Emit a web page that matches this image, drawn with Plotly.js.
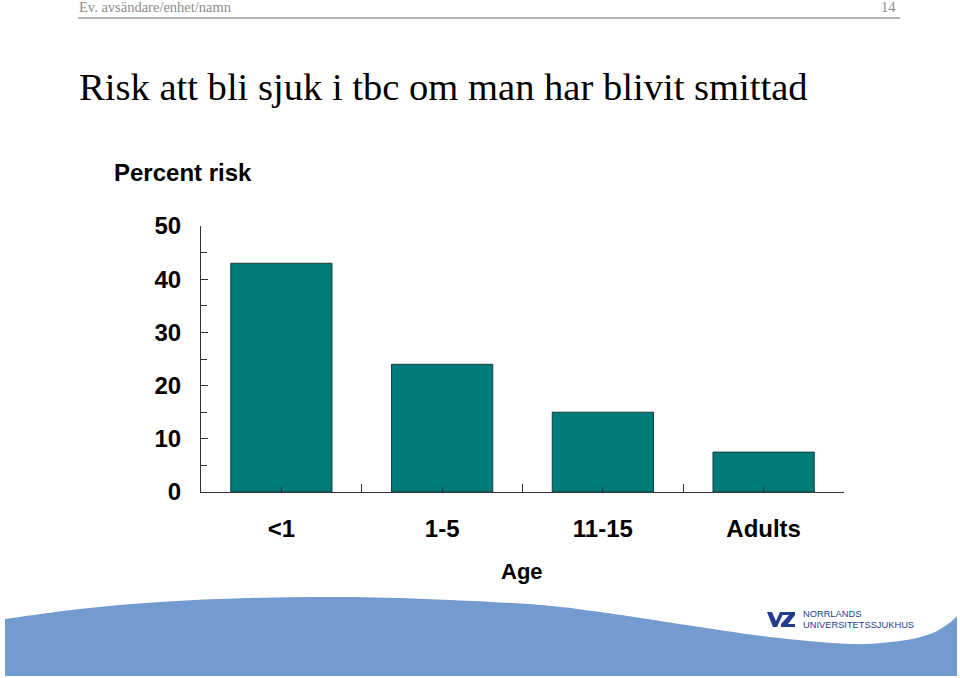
<!DOCTYPE html>
<html>
<head>
<meta charset="utf-8">
<script src="https://cdn.plot.ly/plotly-3.0.1.min.js"></script>
<style>html,body{margin:0;padding:0;background:#fff;}#chart{width:960px;height:678px;}</style>
</head>
<body>
<div id="chart"></div>
<script>
// ---- data ----
const categories = ["<1", "1-5", "11-15", "Adults"];
const riskPercent = [43, 24, 15, 7.5];
const yTickValues = [0, 10, 20, 30, 40, 50];
const yTickLabels = ["0", "10", "20", "30", "40", "50"];

// ---- geometry helpers (decoration only) ----
const W = 960, H = 678;
const L = 201, R = 844, T = 226, B = 492;
const px = X => (X - L) / (R - L);
const py = Y => (B - Y) / (B - T);

function smoothPath(pts) {
  let d = "M" + px(pts[0][0]) + "," + py(pts[0][1]);
  for (let i = 0; i < pts.length - 1; i++) {
    const p0 = pts[Math.max(0, i - 1)], p1 = pts[i], p2 = pts[i + 1], p3 = pts[Math.min(pts.length - 1, i + 2)];
    const c1 = [p1[0] + (p2[0] - p0[0]) / 6, p1[1] + (p2[1] - p0[1]) / 6];
    const c2 = [p2[0] - (p3[0] - p1[0]) / 6, p2[1] - (p3[1] - p1[1]) / 6];
    d += " C" + px(c1[0]) + "," + py(c1[1]) + " " + px(c2[0]) + "," + py(c2[1]) + " " + px(p2[0]) + "," + py(p2[1]);
  }
  return d;
}
function polyPath(pts) {
  return "M" + pts.map(p => px(p[0]) + "," + py(p[1])).join(" L") + " Z";
}

const wavePts = [[5,619],[80,609],[160,602],[250,598],[350,597],[450,600],[540,605],[600,612],[700,627],[770,637],[850,644],[900,641],[930,634],[948,624],[957,616]];
let wave = smoothPath(wavePts);
wave += " L" + px(957) + "," + py(676) + " L" + px(5) + "," + py(676) + " Z";

const logoBlue = "#233d8e";
const iconV = polyPath([[767,612],[772,612],[776,621],[780,612],[784,612],[777,627],[773,627]]);
const iconZ = polyPath([[783,612],[795,612],[795,615],[788,624],[795,624],[795,627],[781,627],[781,624],[789,615],[783,615]]);

const trace = {
  type: "bar",
  x: categories.map((c, i) => i),
  y: riskPercent,
  marker: { color: "#007b79", line: { color: "#1d3c3c", width: 1 } },
  hoverinfo: "skip"
};

const sansFam = "Arial, 'Liberation Sans', sans-serif";
const boldFont = { family: sansFam, size: 24, color: "#000", weight: "bold" };

const layout = {
  width: W, height: H,
  margin: { l: L, r: W - R, t: T, b: H - B, pad: 0 },
  paper_bgcolor: "#fff", plot_bgcolor: "rgba(0,0,0,0)",
  showlegend: false,
  bargap: 0.37,
  xaxis: {
    range: [-0.5, 3.5],
    tickmode: "array",
    tickvals: categories.map((c, i) => i),
    ticktext: categories,
    ticks: "inside", ticklen: 5, tickwidth: 1, tickcolor: "#333",
    minor: { tickmode: "linear", tick0: -0.5, dtick: 1, ticks: "inside", ticklen: 8, tickwidth: 1, tickcolor: "#333" },
    showline: true, linecolor: "#333", linewidth: 1,
    showgrid: false, zeroline: false,
    tickfont: boldFont,
    ticklabelstandoff: 15,
    fixedrange: true
  },
  yaxis: {
    range: [0, 50],
    tickmode: "array",
    tickvals: yTickValues,
    ticktext: yTickLabels,
    ticks: "inside", ticklen: 7, tickwidth: 1, tickcolor: "#333",
    minor: { tickmode: "linear", tick0: 5, dtick: 10, ticks: "inside", ticklen: 6, tickwidth: 1, tickcolor: "#333" },
    showline: true, linecolor: "#333", linewidth: 1,
    showgrid: false, zeroline: false,
    tickfont: boldFont,
    ticklabelstandoff: 14,
    fixedrange: true
  },
  annotations: [
    { text: "Risk att bli sjuk i tbc om man har blivit smittad", xref: "paper", yref: "paper",
      x: px(77), y: py(87), xanchor: "left", yanchor: "middle", showarrow: false,
      font: { family: "'Liberation Serif', 'DejaVu Serif', serif", size: 38.6, color: "#000" } },
    { text: "Ev. avsändare/enhet/namn", xref: "paper", yref: "paper",
      x: px(77), y: py(7), xanchor: "left", yanchor: "middle", showarrow: false,
      font: { family: "'Liberation Serif', serif", size: 14.5, color: "#8c8c8c" } },
    { text: "14", xref: "paper", yref: "paper",
      x: px(898), y: py(7), xanchor: "right", yanchor: "middle", showarrow: false,
      font: { family: "'Liberation Serif', serif", size: 14.5, color: "#8c8c8c" } },
    { text: "Percent risk", xref: "paper", yref: "paper",
      x: px(112), y: py(172), xanchor: "left", yanchor: "middle", showarrow: false,
      font: boldFont },
    { text: "Age", xref: "paper", yref: "paper",
      x: px(522), y: py(571), xanchor: "center", yanchor: "middle", showarrow: false,
      font: { family: sansFam, size: 22, color: "#000", weight: "bold" } },
    { text: "NORRLANDS", xref: "paper", yref: "paper",
      x: px(801), y: py(614), xanchor: "left", yanchor: "middle", showarrow: false,
      font: { family: sansFam, size: 9.3, color: logoBlue } },
    { text: "UNIVERSITETSSJUKHUS", xref: "paper", yref: "paper",
      x: px(801), y: py(625), xanchor: "left", yanchor: "middle", showarrow: false,
      font: { family: sansFam, size: 9.3, color: logoBlue } }
  ],
  shapes: [
    { type: "line", xref: "paper", yref: "paper", x0: px(78), x1: px(900), y0: py(18), y1: py(18),
      line: { color: "#9a9a9a", width: 1.5 } },
    { type: "path", xref: "paper", yref: "paper", path: wave, fillcolor: "#739bcf", line: { width: 0 }, layer: "below" },
    { type: "path", xref: "paper", yref: "paper", path: iconV, fillcolor: logoBlue, line: { width: 0 } },
    { type: "path", xref: "paper", yref: "paper", path: iconZ, fillcolor: logoBlue, line: { width: 0 } }
  ]
};

Plotly.newPlot("chart", [trace], layout, { displayModeBar: false, staticPlot: true });
</script>
</body>
</html>
